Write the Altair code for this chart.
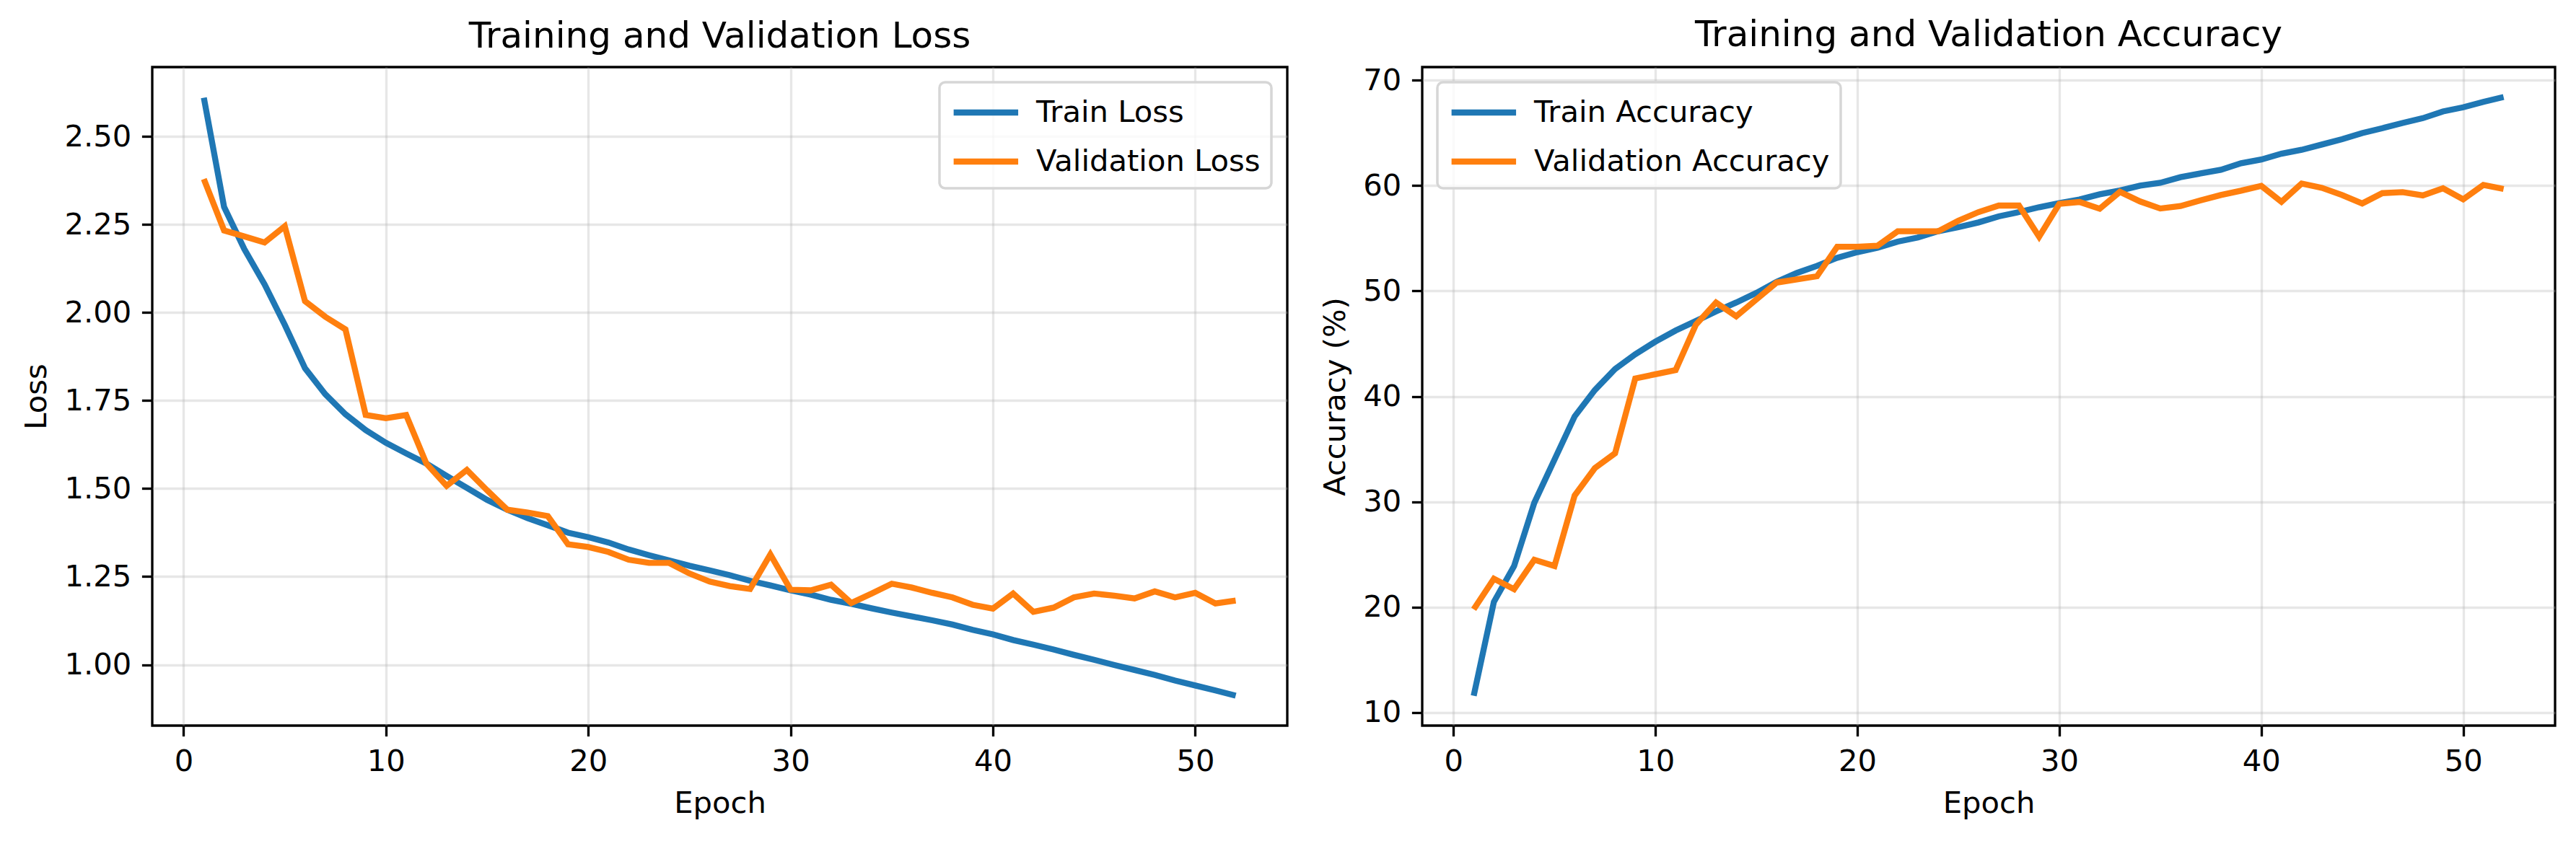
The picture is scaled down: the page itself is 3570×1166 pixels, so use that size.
import altair as alt
import pandas as pd

epochs = list(range(1, 53))

train_loss = [2.61, 2.30, 2.18, 2.08, 1.965, 1.842, 1.768, 1.711, 1.666, 1.630,
              1.600, 1.571, 1.536, 1.502, 1.468, 1.440, 1.416, 1.396, 1.375, 1.362,
              1.347, 1.327, 1.311, 1.296, 1.281, 1.268, 1.254, 1.238, 1.225, 1.211,
              1.199, 1.184, 1.173, 1.160, 1.148, 1.137, 1.126, 1.114, 1.099, 1.086,
              1.070, 1.057, 1.043, 1.028, 1.014, 0.999, 0.985, 0.971, 0.955, 0.941,
              0.927, 0.912]
val_loss = [2.379, 2.233, 2.216, 2.199, 2.245, 2.032, 1.988, 1.952, 1.709, 1.700,
            1.709, 1.571, 1.508, 1.553, 1.495, 1.440, 1.432, 1.422, 1.342, 1.334,
            1.320, 1.298, 1.289, 1.289, 1.259, 1.236, 1.223, 1.215, 1.313, 1.213,
            1.211, 1.227, 1.175, 1.202, 1.230, 1.219, 1.204, 1.191, 1.170, 1.159,
            1.202, 1.150, 1.162, 1.191, 1.202, 1.196, 1.188, 1.208, 1.191, 1.204,
            1.174, 1.182]
train_acc = [11.6, 20.5, 23.9, 29.9, 34.0, 38.1, 40.6, 42.6, 44.0, 45.2,
             46.25, 47.15, 48.06, 48.91, 49.82, 50.87, 51.71, 52.39, 53.15, 53.69,
             54.1, 54.69, 55.08, 55.67, 56.06, 56.51, 57.08, 57.49, 57.95, 58.34,
             58.68, 59.18, 59.54, 60.0, 60.27, 60.8, 61.16, 61.5, 62.12, 62.48,
             63.03, 63.40, 63.9, 64.4, 64.99, 65.45, 65.95, 66.4, 67.04, 67.43,
             67.95, 68.41]
val_acc = [19.8, 22.7, 21.7, 24.5, 23.9, 30.6, 33.2, 34.6, 41.7, 42.1,
           42.5, 46.8, 48.9, 47.6, 49.2, 50.8, 51.1, 51.4, 54.2, 54.2,
           54.3, 55.67, 55.67, 55.67, 56.67, 57.49, 58.11, 58.11, 55.15, 58.27,
           58.45, 57.81, 59.41, 58.5, 57.83, 58.06, 58.61, 59.11, 59.52, 59.98,
           58.47, 60.2, 59.79, 59.11, 58.31, 59.29, 59.38, 59.07, 59.75, 58.7,
           60.07, 59.68]

loss_series = ["Train Loss", "Validation Loss"]
acc_series = ["Train Accuracy", "Validation Accuracy"]
colors = ["#1f77b4", "#ff7f0e"]
x_ticks = [0, 10, 20, 30, 40, 50]
loss_ticks = [1.00, 1.25, 1.50, 1.75, 2.00, 2.25, 2.50]
acc_ticks = [10, 20, 30, 40, 50, 60, 70]

loss_df = pd.DataFrame({
    "Epoch": epochs + epochs,
    "value": train_loss + val_loss,
    "series": [loss_series[0]] * len(epochs) + [loss_series[1]] * len(epochs),
})
acc_df = pd.DataFrame({
    "Epoch": epochs + epochs,
    "value": train_acc + val_acc,
    "series": [acc_series[0]] * len(epochs) + [acc_series[1]] * len(epochs),
})

FS = 41.7
LW = 8.33


def legend(x, y):
    return alt.Legend(
        title=None, orient="none", legendX=x, legendY=y,
        symbolType="M-1,0H3", symbolSize=2000, symbolStrokeWidth=LW,
        labelFontSize=FS, labelFont="DejaVu Sans", labelColor="black",
        labelOffset=65, rowPadding=19, padding=15,
        fillColor="rgba(255,255,255,0.8)", strokeColor="#d6d6d6",
        cornerRadius=8, labelLimit=1000,
    )


def panel(df, series, ytitle, yticks, ydomain, yfmt, title, leg, w):
    return alt.Chart(df).mark_line(strokeWidth=LW, strokeCap="butt", strokeJoin="miter").encode(
        x=alt.X("Epoch:Q", scale=alt.Scale(domain=[-1.55, 54.55], nice=False, zero=False),
                axis=alt.Axis(values=x_ticks, format="d", title="Epoch")),
        y=alt.Y("value:Q", scale=alt.Scale(domain=ydomain, nice=False, zero=False),
                axis=alt.Axis(values=yticks, format=yfmt, title=ytitle)),
        color=alt.Color("series:N", scale=alt.Scale(domain=series, range=colors),
                        legend=leg),
    ).properties(
        width=w, height=913,
        title=alt.TitleParams(title, fontSize=50, font="DejaVu Sans", fontWeight="normal",
                              color="black", anchor="middle", baseline="bottom", offset=-33),
    )


left = panel(loss_df, loss_series, "Loss", loss_ticks, [0.827, 2.697], ".2f",
             "Training and Validation Loss", legend(1091, 21), 1573)
right = panel(acc_df, acc_series, "Accuracy (%)", acc_ticks, [8.76, 71.25], "d",
              "Training and Validation Accuracy", legend(21, 21), 1570)

chart = alt.hconcat(left, right, spacing=42).resolve_scale(color="independent").properties(
    padding={"left": 20, "top": 14, "right": 5, "bottom": 5},
    background="white",
).configure_view(
    stroke="black", strokeWidth=3.33
).configure_axis(
    labelFont="DejaVu Sans", titleFont="DejaVu Sans",
    labelFontSize=FS, titleFontSize=FS, titleFontWeight="normal",
    labelColor="black", titleColor="black",
    gridColor="#b0b0b0", gridOpacity=0.3, gridWidth=3.33,
    tickColor="black", tickWidth=3.33, tickSize=14.6, labelPadding=14.6,
    titlePadding=16.7, domain=False,
).configure_legend(
    strokeWidth=3.5
)

chart.save("out.html", embed_options={"renderer": "svg", "actions": False})
